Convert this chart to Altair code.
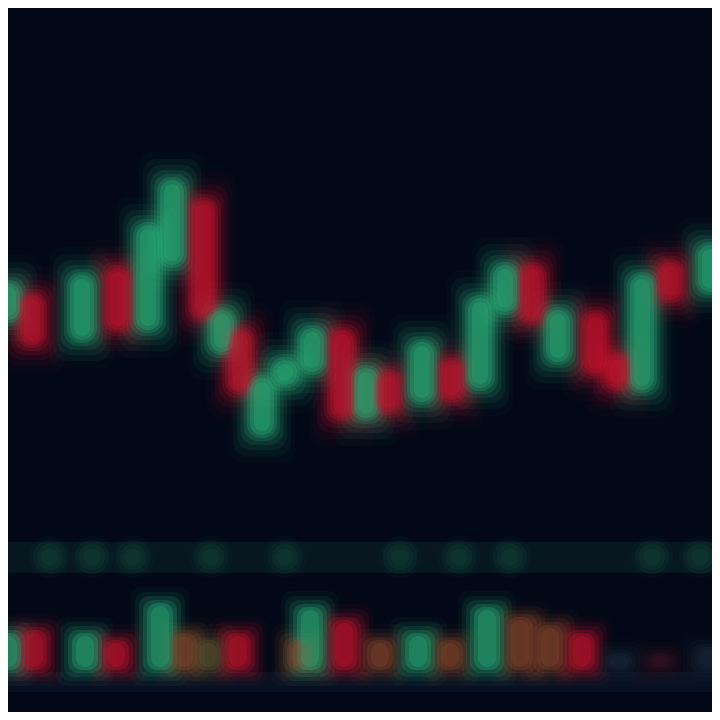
import altair as alt
import pandas as pd

# ---- candles (x position, open, close) ----
candle_x = [8, 32, 82, 118, 148, 172, 203, 222, 240, 262, 285, 312, 342, 366,
            388, 422, 452, 480, 505, 532, 558, 595, 618, 642, 670, 710]
candle_open = [400, 425, 380, 452, 390, 455, 520, 368, 390, 285, 335, 348, 390, 302,
               348, 318, 360, 332, 408, 455, 358, 407, 365, 330, 458, 428]
candle_close = [437, 375, 445, 390, 495, 540, 402, 410, 328, 342, 360, 392, 302, 352,
                308, 378, 320, 422, 455, 398, 410, 347, 332, 445, 420, 475]

# ---- volume (x position, volume, tone) ----
vol_x = [8, 34, 85, 116, 160, 184, 208, 238, 300, 310, 344, 380, 418, 450,
         487, 520, 550, 582, 619, 660, 708]
vol_v = [37, 40, 37, 30, 67, 37, 30, 37, 30, 63, 50, 30, 37, 30,
         63, 53, 45, 37, 17, 17, 23]
vol_tone = ["up", "down", "up", "down", "up", "mixed", "olive", "down", "mixed", "up",
            "down", "mixed", "up", "mixed", "up", "mixed", "mixed", "down", "dim",
            "dimred", "dim"]

# ---- faint indicator strip (x position) ----
strip_x = [50, 92, 133, 211, 285, 400, 459, 510, 652, 700]
strip_level = [113] * len(strip_x)

candles = pd.DataFrame({"x": candle_x, "open": candle_open, "close": candle_close})
candles["top"] = candles[["open", "close"]].max(axis=1)
candles["bottom"] = candles[["open", "close"]].min(axis=1)
candles["dir"] = ["up" if c >= o else "down" for o, c in zip(candle_open, candle_close)]

vol = pd.DataFrame({"x": vol_x, "v": vol_v, "tone": vol_tone})
vol["base"] = 0
strip = pd.DataFrame({"x": strip_x, "lvl": strip_level})
band = pd.DataFrame({"x": [8], "x2": [720], "y": [97], "y2": [128]})
floor = pd.DataFrame({"x": [8], "x2": [720], "y": [-22], "y2": [-2]})

BG = "#020816"
xscale = alt.Scale(domain=[8, 712], nice=False, zero=False, padding=0)
tone_scale = alt.Scale(
    domain=["up", "down", "mixed", "olive", "dim", "dimred"],
    range=["#2bb37c", "#d0152f", "#8c4a2c", "#5e5632", "#1c2b3c", "#3b1426"],
)

W = 704
H1 = 520
H2 = 184

# price panel
pbase = alt.Chart(candles).encode(
    x=alt.X("x:Q", scale=xscale, axis=None),
    y=alt.Y("top:Q", scale=alt.Scale(domain=[192, 712], nice=False, zero=False, padding=0), axis=None),
    y2="bottom:Q",
    color=alt.Color("dir:N", scale=tone_scale, legend=None),
)
glow = [
    (66, 28, 0.035),
    (58, 21, 0.06),
    (50, 15, 0.09),
    (43, 10, 0.13),
    (36, 6, 0.18),
    (30, 3, 0.24),
    (24, 0, 0.3),
    (16, -4, 0.3),
]
price_layers = [
    pbase.mark_bar(size=s, yOffset=-o, y2Offset=o, opacity=op,
                   cornerRadius=min(s // 2, 14), clip=True)
    for s, o, op in glow
]
price = alt.layer(*price_layers).properties(width=W, height=H1)

# volume panel
yv = alt.Scale(domain=[-42, 142], nice=False, zero=False, padding=0)
band_l = alt.Chart(band).mark_rect(color="#0f3a36", opacity=0.3, clip=True).encode(
    x=alt.X("x:Q", scale=xscale, axis=None), x2="x2:Q",
    y=alt.Y("y:Q", scale=yv, axis=None), y2="y2:Q",
)
floor_l = alt.Chart(floor).mark_rect(color="#142338", opacity=0.35, clip=True).encode(
    x=alt.X("x:Q", scale=xscale, axis=None), x2="x2:Q",
    y=alt.Y("y:Q", scale=yv, axis=None), y2="y2:Q",
)
strip_layers = [
    alt.Chart(strip).mark_circle(color="#1a6450", opacity=op, size=sz, clip=True).encode(
        x=alt.X("x:Q", scale=xscale, axis=None),
        y=alt.Y("lvl:Q", scale=yv, axis=None),
    )
    for sz, op in [(1800, 0.07), (1200, 0.1), (700, 0.14), (300, 0.14)]
]
vbase = alt.Chart(vol).encode(
    x=alt.X("x:Q", scale=xscale, axis=None),
    y=alt.Y("v:Q", scale=yv, axis=None),
    y2="base:Q",
    color=alt.Color("tone:N", scale=tone_scale, legend=None),
)
vglow = [(58, 16, 0.05), (50, 11, 0.09), (42, 7, 0.14), (34, 3, 0.22), (26, 0, 0.3), (18, -3, 0.3)]
vol_layers = [
    vbase.mark_bar(size=s, yOffset=-o, y2Offset=o, opacity=op,
                   cornerRadius=min(s // 2, 10), clip=True)
    for s, o, op in vglow
]
volume = alt.layer(floor_l, band_l, *strip_layers, *vol_layers).properties(width=W, height=H2)

chart = (
    alt.vconcat(price, volume, spacing=0)
    .properties(padding=0, background=BG)
    .configure_view(stroke=None)
)

chart.save("out.html", embed_options={"renderer": "svg", "actions": False})
